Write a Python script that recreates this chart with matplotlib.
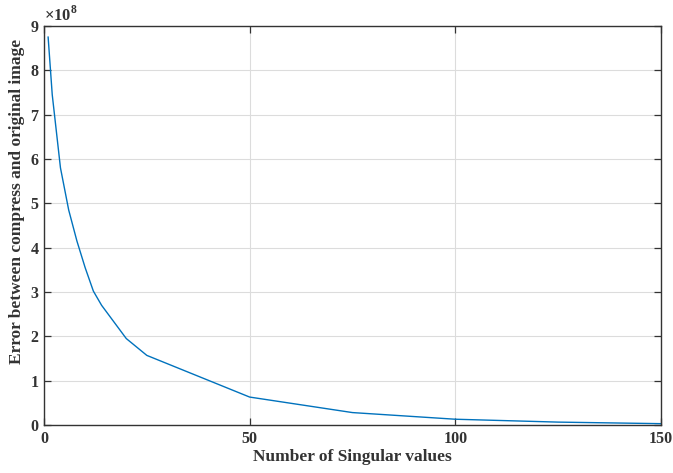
import matplotlib
matplotlib.use("Agg")
import matplotlib.pyplot as plt

k_values = [1, 2, 4, 6, 8, 10, 12, 14, 16, 18, 20, 25, 50, 75, 100, 125, 150]
errors_e8 = [8.75, 7.45, 5.80, 4.85, 4.15, 3.55, 3.02, 2.70, 2.45, 2.20, 1.95, 1.57, 0.63, 0.28, 0.13, 0.065, 0.03]
x_ticks = [0, 50, 100, 150]
y_ticks = [0, 1, 2, 3, 4, 5, 6, 7, 8, 9]

plt.rcParams['font.family'] = ['Liberation Serif', 'DejaVu Serif']
plt.rcParams['mathtext.fontset'] = 'custom'
plt.rcParams['mathtext.rm'] = 'Liberation Serif:bold'
plt.rcParams['mathtext.bf'] = 'Liberation Serif:bold'

fig = plt.figure(figsize=(6.73, 4.73), dpi=100)
ax = fig.add_axes([0.0654, 0.1015, 0.9166, 0.8435])

ax.plot(k_values, [v * 1e8 for v in errors_e8], color=(0, 0.447, 0.741), lw=1.0)
ax.set_xlim(0, 150)
ax.set_ylim(0, 9e8)
ax.set_xticks(x_ticks)
ax.set_xticklabels([str(t) for t in x_ticks])
ax.set_yticks([t * 1e8 for t in y_ticks])
ax.set_yticklabels([str(t) for t in y_ticks])
ax.grid(True, color='#dcdcdc', lw=0.8)
ax.set_axisbelow(True)
ax.tick_params(direction='in', length=5, width=0.9, colors='#333333', labelsize=11.5,
               top=True, right=True, pad=4)
for lab in ax.get_xticklabels() + ax.get_yticklabels():
    lab.set_fontweight('bold')
for s in ax.spines.values():
    s.set_color('#333333')
    s.set_linewidth(1.0)

ax.text(0.0, 1.003, r'$\times 10^{8}$', transform=ax.transAxes, fontsize=12,
        ha='left', va='bottom', color='#333333')
ax.set_xlabel('Number of Singular values', fontsize=12.5, fontweight='bold', labelpad=2,
              color='#333333')
ax.set_ylabel('Error between compress and original image', fontsize=12.5, fontweight='bold',
              color='#333333')
ax.yaxis.set_label_coords(-0.031, 0.56)

fig.savefig('out.png', dpi=100)
